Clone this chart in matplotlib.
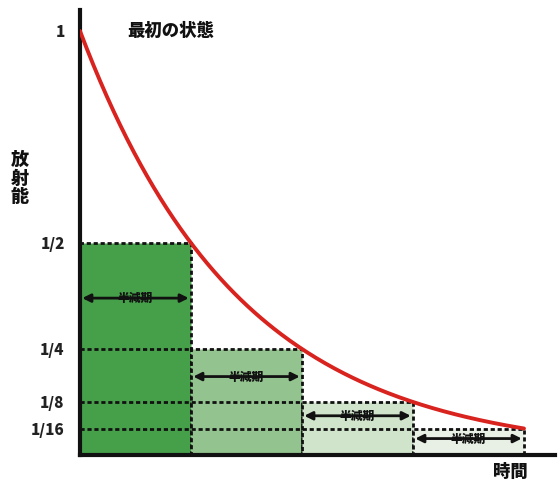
import matplotlib
matplotlib.use("Agg")
import matplotlib.pyplot as plt
import numpy as np

plt.rcParams['font.family'] = ['Noto Sans CJK JP', 'DejaVu Sans']

# Data
half_lives = [0, 1, 2, 3]                 # start of each half-life period
levels = [1/2, 1/4, 1/8, 1/16]            # remaining activity after each period
tick_values = [1, 1/2, 1/4, 1/8, 1/16]
tick_labels = ["1", "1/2", "1/4", "1/8", "1/16"]
bar_colors = ["#46a04a", "#93c38e", "#d0e4cb", "#e8f0e5"]
curve_x = np.linspace(0, 4, 200)
curve_y = 0.5 ** curve_x

fig = plt.figure(figsize=(5.58, 4.86), dpi=100)
ax = fig.add_axes([80/558, 31/486, 475/558, 445/486])
ax.set_xlim(0, 475/111)
ax.set_ylim(0, 445/424)

# bars
for x0, h, c in zip(half_lives, levels, bar_colors):
    ax.add_patch(plt.Rectangle((x0, 0), 1, h, facecolor=c, edgecolor="#111111",
                               linestyle=(0, (1.5, 1)), linewidth=2, zorder=2))
    if x0 > 0:
        ax.plot([0, x0], [h, h], color="#111111", linestyle=(0, (1.5, 1)), linewidth=2, zorder=3)
    ya = h * 0.74 if x0 < 3 else h * 0.62
    ax.annotate("", xy=(x0 + 0.98, ya), xytext=(x0 + 0.02, ya),
                arrowprops=dict(arrowstyle="<|-|>", color="#111111", lw=2,
                                mutation_scale=12, shrinkA=0, shrinkB=0), zorder=4)
    ax.text(x0 + 0.5, ya, "半減期", ha="center", va="center", fontsize=8.5,
            fontweight="heavy", color="#111111", zorder=5)

# curve
ax.plot(curve_x, curve_y, color="#d8231f", linewidth=2.8, zorder=6, solid_capstyle="round")

for s in ["top", "right"]:
    ax.spines[s].set_visible(False)
for s in ["left", "bottom"]:
    ax.spines[s].set_linewidth(3)
    ax.spines[s].set_color("#111111")
ax.set_xticks([])
ax.set_yticks(tick_values)
ax.set_yticklabels(tick_labels, fontsize=11, fontweight="heavy", color="#222222")
ax.tick_params(axis="y", length=0, pad=11)

ax.text(0.43, 1.0, "最初の状態", fontsize=12.5, fontweight="heavy", va="center", ha="left", color="#111111")
fig.text(20/558, 1 - 178/486, "放\n射\n能", fontsize=13, fontweight="heavy", ha="center", va="center",
         linespacing=0.95, color="#111111")
fig.text(510/558, 1 - 472/486, "時間", fontsize=12.5, fontweight="heavy", ha="center", va="center", color="#111111")

fig.savefig("out.png", dpi=100)
